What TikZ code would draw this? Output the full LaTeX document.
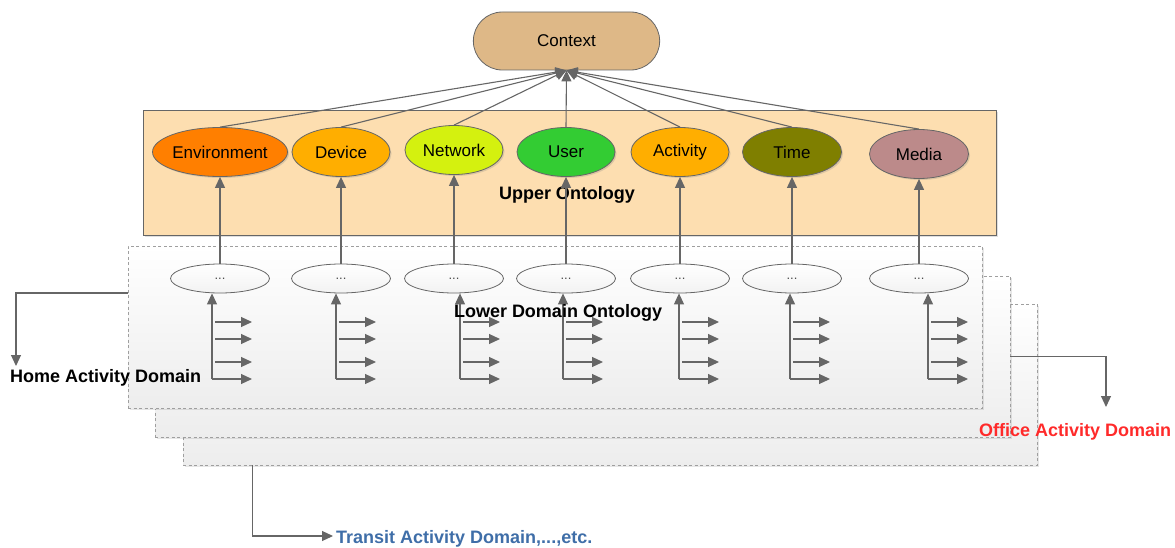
\documentclass[tikz,border=0pt]{standalone}
\usepackage{fontspec}
\setmainfont{Liberation Sans}
\usetikzlibrary{arrows.meta, shapes.geometric, shapes.misc, shadows}

\definecolor{linegray}{HTML}{666666}
\definecolor{ctxfill}{HTML}{DEB887}
\definecolor{upfill}{HTML}{FDDEB0}
\definecolor{envfill}{HTML}{FF7F00}
\definecolor{devfill}{HTML}{FFAE00}
\definecolor{netfill}{HTML}{D4F10F}
\definecolor{usrfill}{HTML}{33CC33}
\definecolor{timfill}{HTML}{7F7F00}
\definecolor{medfill}{HTML}{BC8A8A}
\definecolor{offred}{HTML}{FF2A2A}
\definecolor{trblue}{HTML}{3F6EA8}

\newcommand{\lab}{\fontsize{17}{20}\selectfont}
\newcommand{\blab}{\fontsize{18}{21}\selectfont\bfseries}

\tikzset{
  conn/.style={draw=linegray, line width=1.1pt, -{Triangle[length=11pt,width=10pt]}},
  concept/.style={ellipse, draw=linegray, line width=0.8pt, inner sep=0pt, minimum height=49, font=\lab,
    drop shadow={opacity=0.25, shadow xshift=1.5pt, shadow yshift=-1.5pt}},
  leaf/.style={ellipse, draw=linegray, line width=0.8pt, minimum width=99, minimum height=29, inner sep=0pt,
    top color=white, bottom color=gray!10, font=\fontsize{13}{15}\selectfont, text=gray!60!black},
  actbox/.style={draw=gray!75, dash pattern=on 3pt off 2.5pt, line width=0.8pt, top color=white, bottom color=gray!14,
    drop shadow={opacity=0.2, shadow xshift=1.5pt, shadow yshift=-1.5pt}},
  tag/.style={font=\blab, anchor=base west, inner sep=0pt}
}

\begin{document}
\begin{tikzpicture}[x=1pt, y=-1pt]
            \useasboundingbox (0,0) rectangle (1175,548);
            \node[rounded rectangle, draw=linegray, line width=0.8pt, fill=ctxfill, minimum width=193, minimum height=58, font=\lab] (ctx) at (566.5,41) {Context};
            \node[draw=linegray, line width=0.8pt, fill=upfill, minimum width=853, minimum height=125,
                drop shadow={opacity=0.25, shadow xshift=2pt, shadow yshift=-2pt}] (upper) at (569.5,172.5) {};
            \node[font=\blab] (upl) at (567,195) {Upper Ontology};
            \node[concept, fill=envfill, minimum width=121] (env) at (220,152) {Environment};
            \node[concept, fill=devfill, minimum width=98] (dev) at (341,152) {Device};
            \node[concept, fill=netfill, minimum width=98] (net) at (454,150) {Network};
            \node[concept, fill=usrfill, minimum width=98] (usr) at (566,152) {User};
            \node[concept, fill=devfill, minimum width=98] (act) at (680,152) {Activity};
            \node[concept, fill=timfill, minimum width=99] (tim) at (792,152) {Time};
            \node[concept, fill=medfill, minimum width=99] (med) at (919,154) {Media};
            \foreach \n in {env,dev,net,usr,act,tim,med}
                \draw[conn] (\n.north) -- (ctx.south);
            \node[actbox, minimum width=854, minimum height=161] (transit) at (610,384.5) {};
            \node[actbox, minimum width=855, minimum height=161] (office) at (582.5,356.5) {};
            \node[actbox, minimum width=854, minimum height=162] (home) at (555,327) {};
            \foreach \i/\n/\xx/\gx in {1/env/220/212, 2/dev/341/336, 3/net/454/460, 4/usr/566/563, 5/act/680/679, 6/tim/792/790, 7/med/919/928}{
                \node[leaf] (l\i) at (\xx,278.5) {...};
                \draw[conn] (l\i.north) -- (\n.south);
                \coordinate (g\i) at (\gx,379);
                \draw[conn] (g\i) -- (g\i |- l\i.south);
                \draw[conn] (g\i) -- ++(40,0);
                \foreach \dy in {17,40,57}
                    \draw[conn] ([shift={(3,-\dy)}]g\i) -- ++(37,0);
            }
            \node[font=\blab] (lowl) at (558,313) {Lower Domain Ontology};
            \node[tag] (homel) at (10,382) {Home Activity Domain};
            \node[tag, text=offred] (officel) at (979,436) {Office Activity Domain};
            \node[tag, text=trblue] (transitl) at (336,543) {Transit Activity Domain,...,etc.};
            \coordinate (homtip) at (16,366);
            \coordinate (offtip) at (1106,407);
            \coordinate (trantip) at (333,536);
            \draw[conn] ([yshift=34pt]home.west) -| (homtip);
            \draw[conn] (office.east) -| (offtip);
            \draw[conn] ([xshift=70pt]transit.south west) |- (trantip);
\end{tikzpicture}
\end{document}
